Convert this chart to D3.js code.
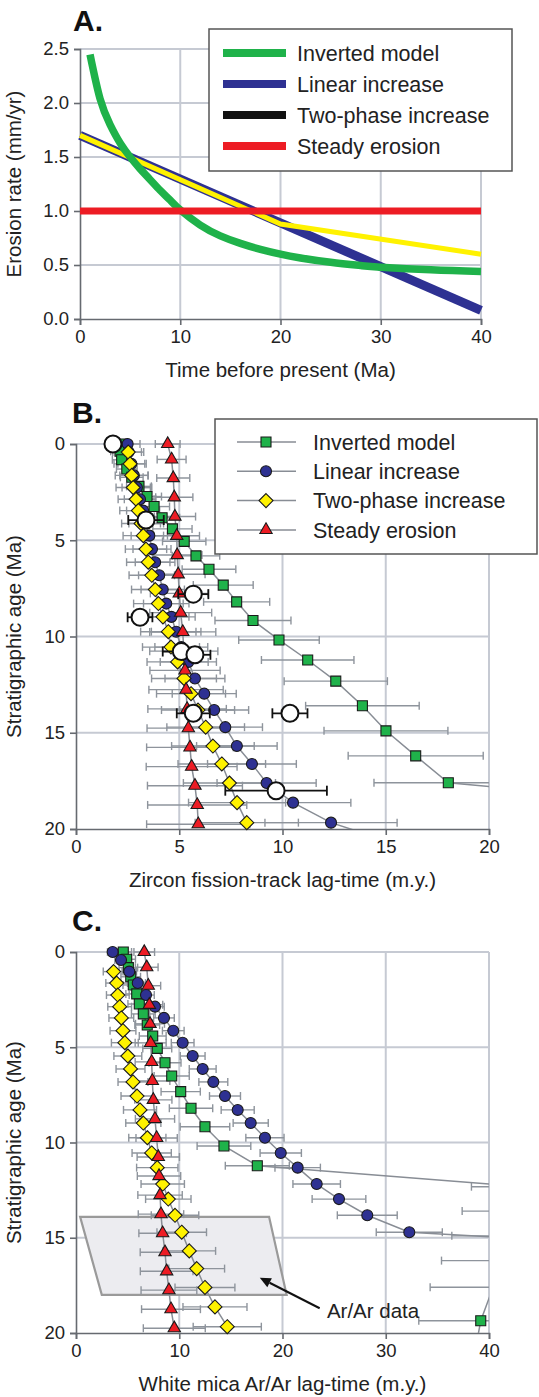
<!DOCTYPE html>
<html>
<head>
<meta charset="utf-8">
<script src="https://cdn.jsdelivr.net/npm/d3@7"></script>
<style>
  body { margin: 0; background: #fff; }
  svg { display: block; font-family: "Liberation Sans", Arial, Helvetica, sans-serif; }
</style>
</head>
<body>
<svg id="chart" width="539" height="1397"></svg>
<script>
// ---- Panel A: erosion-rate histories (Ma, mm/yr)
const A_INV_T = [1, 2, 3, 4, 5, 6, 7, 8, 9, 10, 12, 14, 16, 18, 20, 22, 25, 28, 30, 35, 40];
const A_INV_E = [2.45, 2.04, 1.8, 1.63, 1.5, 1.39, 1.29, 1.19, 1.1, 1.01, 0.87, 0.77, 0.7, 0.645, 0.6, 0.565, 0.525, 0.495, 0.48, 0.455, 0.44];
const A_LIN_T = [0, 40];
const A_LIN_E = [1.7, 0.08];
const A_TWO_T = [0, 20, 40];
const A_TWO_E = [1.7, 0.88, 0.6];
const A_STEADY_T = [0, 40];
const A_STEADY_E = [1, 1];

// ---- Stratigraphic ages of the modelled samples (Ma)
const AGE_INV = [0, 0.38, 0.82, 1.3, 1.73, 2.2, 2.73, 3.25, 3.83, 4.41, 5.06, 5.81, 6.51, 7.33, 8.2, 9.17, 10.18, 11.22, 12.32, 13.6, 14.9, 16.2, 17.6, 19.36, 21.4];
const AGE_LIN = [0, 0.42, 1.03, 1.63, 2.26, 2.87, 3.46, 4.13, 4.76, 5.46, 6.14, 6.82, 7.56, 8.29, 8.98, 9.75, 10.55, 11.32, 12.18, 12.97, 13.82, 14.71, 15.69, 16.62, 17.61, 18.63, 19.67, 20.7];
const AGE_TWO_ZFT = [0.42, 1.03, 1.63, 2.26, 2.87, 3.46, 4.13, 4.76, 5.46, 6.14, 6.82, 7.56, 8.29, 8.98, 9.75, 10.55, 11.32, 12.18, 12.97, 13.82, 14.71, 15.69, 16.62, 17.61, 18.63, 19.67];
const AGE_TWO_AR = [1.03, 1.63, 2.26, 2.87, 3.46, 4.13, 4.76, 5.46, 6.14, 6.82, 7.56, 8.29, 8.98, 9.75, 10.55, 11.32, 12.18, 12.97, 13.82, 14.71, 15.69, 16.62, 17.61, 18.63, 19.67];
const AGE_STEADY = [0, 0.8, 1.77, 2.77, 3.77, 4.77, 5.77, 6.77, 7.76, 8.76, 9.76, 10.76, 11.76, 12.76, 13.76, 14.76, 15.76, 16.76, 17.75, 18.75, 19.75];

// ---- Panel B: zircon fission-track lag-time (m.y.)
const ZFT_INV = [2.25, 2.13, 2.21, 2.46, 2.7, 3.05, 3.44, 3.78, 4.17, 4.67, 5.24, 5.81, 6.44, 7.13, 7.78, 8.57, 9.83, 11.22, 12.58, 13.87, 15.01, 16.45, 18.03, 35.5];
const ZFT_INV_ERR = [0.45, 0.45, 0.45, 0.5, 0.55, 0.6, 0.7, 0.75, 0.85, 0.95, 1.05, 1.15, 1.3, 1.45, 1.6, 1.84, 1.95, 2.24, 2.5, 2.75, 3.0, 3.27, 3.6, 7.0];
const ZFT_LIN = [2.5, 2.55, 2.68, 2.8, 2.95, 3.1, 3.25, 3.4, 3.55, 3.68, 3.83, 4.03, 4.2, 4.37, 4.62, 4.85, 5.1, 5.44, 5.76, 6.21, 6.69, 7.23, 7.79, 8.52, 9.23, 10.51, 12.35, 15.3];
const ZFT_LIN_ERR = [0.6, 0.62, 0.65, 0.68, 0.72, 0.76, 0.8, 0.84, 0.88, 0.92, 0.96, 1.0, 1.05, 1.1, 1.15, 1.2, 1.28, 1.36, 1.45, 1.55, 1.67, 1.8, 1.95, 2.15, 2.4, 2.8, 3.2, 3.8];
const ZFT_TWO = [2.53, 2.62, 2.7, 2.77, 2.91, 3.02, 3.15, 3.26, 3.39, 3.5, 3.67, 3.84, 3.99, 4.21, 4.47, 4.6, 4.92, 5.23, 5.57, 5.91, 6.28, 6.63, 7.06, 7.43, 7.8, 8.27];
const ZFT_TWO_ERR = [0.75, 0.78, 0.8, 0.83, 0.87, 0.9, 0.94, 0.98, 1.0, 1.05, 1.1, 1.15, 1.2, 1.26, 1.34, 1.38, 1.48, 1.57, 1.67, 1.77, 1.88, 2.0, 2.12, 2.23, 2.35, 2.5];
const ZFT_STEADY = [4.44, 4.63, 4.71, 4.76, 4.79, 4.88, 4.9, 4.95, 5.0, 5.07, 5.17, 5.22, 5.28, 5.33, 5.38, 5.44, 5.52, 5.6, 5.76, 5.87, 5.92];
const ZFT_STEADY_ERR = [0.6, 0.7, 0.8, 0.9, 1.0, 1.1, 1.2, 1.3, 1.4, 1.5, 1.6, 1.65, 1.7, 1.8, 1.9, 2.0, 2.1, 2.2, 2.3, 2.4, 2.5];
// observed detrital zircon lag-times
const OBS_AGE = [0, 3.95, 7.8, 9.0, 10.78, 10.95, 13.99, 13.99, 18.01];
const OBS_LAG = [1.79, 3.39, 5.68, 3.1, 5.1, 5.76, 5.68, 10.36, 9.69];
const OBS_ERR = [0, 0.86, 0.73, 0.6, 0.9, 0.75, 0.8, 0.85, 2.46];

// ---- Panel C: white mica Ar/Ar lag-time (m.y.)
const AR_INV = [4.58, 4.91, 5.07, 5.3, 5.55, 5.88, 6.13, 6.52, 6.9, 7.43, 7.87, 8.62, 9.27, 10.14, 11.14, 12.49, 14.33, 17.56, 43.3, 43.0, 42.3, 41.5, 40.4, 39.2, 38.5];
const AR_INV_ERR = [0.8, 0.85, 0.9, 0.95, 1.0, 1.05, 1.1, 1.15, 1.2, 1.3, 1.4, 1.55, 1.7, 1.9, 2.1, 2.4, 2.6, 3.1, 5.0, 5.6, 5.9, 6.1, 6.1, 6.0, 6.0];
const AR_LIN = [3.55, 4.36, 5.16, 5.98, 6.78, 7.65, 8.52, 9.42, 10.33, 11.3, 12.27, 13.3, 14.43, 15.66, 16.92, 18.3, 19.83, 21.47, 23.31, 25.47, 28.21, 32.28, 63.8];
const AR_LIN_ERR = [0.5, 0.6, 0.7, 0.75, 0.8, 0.9, 1.0, 1.05, 1.1, 1.2, 1.3, 1.4, 1.5, 1.6, 1.7, 1.85, 2.0, 2.2, 2.3, 2.6, 2.9, 3.2, 6.0];
const AR_TWO = [3.64, 3.94, 4.05, 4.23, 4.39, 4.55, 4.73, 5.02, 5.28, 5.52, 5.91, 6.2, 6.52, 6.91, 7.33, 7.87, 8.4, 8.94, 9.59, 10.24, 10.97, 11.69, 12.49, 13.46, 14.65];
const AR_TWO_ERR = [1.0, 1.05, 1.1, 1.15, 1.2, 1.25, 1.3, 1.35, 1.4, 1.45, 1.55, 1.6, 1.7, 1.8, 1.9, 2.0, 2.1, 2.2, 2.3, 2.4, 2.55, 2.7, 2.9, 3.1, 3.3];
const AR_STEADY = [6.61, 6.85, 7.0, 7.1, 7.17, 7.23, 7.33, 7.39, 7.49, 7.65, 7.81, 7.97, 8.04, 8.14, 8.23, 8.39, 8.62, 8.78, 9.0, 9.2, 9.52];
const AR_STEADY_ERR = [1.0, 1.1, 1.2, 1.3, 1.4, 1.5, 1.6, 1.7, 1.8, 1.9, 2.0, 2.05, 2.1, 2.15, 2.2, 2.3, 2.4, 2.55, 2.7, 2.85, 3.0];
// Ar/Ar data field (lag, age corners)
const AR_BOX_LAG = [0.4, 18.7, 20.4, 2.5];
const AR_BOX_AGE = [13.9, 13.9, 18, 18];

const LEGEND_NAMES = ["Inverted model", "Linear increase", "Two-phase increase", "Steady erosion"];

// Farben
const GREEN = "#1fb24a", BLUE = "#2e3192", YELLOW = "#fff200", RED = "#ed1c24";
const GRID = "#c6cad3", AXIS = "#666a70", ERRC = "#8e949c", LINEC = "#888d95", TXT = "#222";

const svg = d3.select("#chart");

// Diamant-Symbol (auf der Spitze stehendes Quadrat)
const diamond = {
    draw(ctx, size) {
        const r = Math.sqrt(size / 2);
        ctx.moveTo(0, -r); ctx.lineTo(r, 0); ctx.lineTo(0, r); ctx.lineTo(-r, 0); ctx.closePath();
    }
};

// Rahmen, Gitter und Achsen eines Teilbildes
function frame(box, xDomain, yDomain, xTicks, yTicks, yFmt, xTitle, yTitle, letter) {
    const x = d3.scaleLinear().domain(xDomain).range([box.left, box.right]);
    const y = d3.scaleLinear().domain(yDomain).range([box.top, box.bottom]);
    const g = svg.append("g");

    g.append("g").selectAll("line").data(xTicks.slice(1)).join("line")
        .attr("x1", d => x(d)).attr("x2", d => x(d))
        .attr("y1", box.top).attr("y2", box.bottom)
        .attr("stroke", GRID).attr("stroke-width", 2);
    g.append("g").selectAll("line").data(yTicks.filter(d => y(d) !== box.bottom)).join("line")
        .attr("x1", box.left).attr("x2", box.right)
        .attr("y1", d => y(d)).attr("y2", d => y(d))
        .attr("stroke", GRID).attr("stroke-width", 2);

    const xAxis = g.append("g").attr("transform", `translate(0,${box.bottom})`)
        .call(d3.axisBottom(x).tickValues(xTicks).tickSize(6).tickPadding(5).tickFormat(d3.format("d")));
    const yAxis = g.append("g").attr("transform", `translate(${box.left},0)`)
        .call(d3.axisLeft(y).tickValues(yTicks).tickSize(6).tickPadding(5).tickFormat(yFmt));
    [xAxis, yAxis].forEach(a => {
        a.select(".domain").attr("stroke", AXIS).attr("stroke-width", 1.6);
        a.selectAll(".tick line").attr("stroke", AXIS).attr("stroke-width", 1.6);
        a.selectAll("text").attr("fill", TXT).style("font-size", "18.5px")
            .style("font-family", "'Liberation Sans', Arial, sans-serif");
    });

    g.append("text").attr("x", (box.left + box.right) / 2).attr("y", box.bottom + 58)
        .attr("text-anchor", "middle").attr("fill", TXT).style("font-size", "20.5px").text(xTitle);
    g.append("text")
        .attr("transform", `translate(21,${(box.top + box.bottom) / 2}) rotate(-90)`)
        .attr("text-anchor", "middle").attr("fill", TXT).style("font-size", "20.5px").text(yTitle);
    g.append("text").attr("x", letter.x).attr("y", letter.y)
        .attr("fill", "#111").style("font-size", "30px").style("font-weight", "bold").text(letter.t);

    const clipId = "clip" + letter.t.replace(".", "");
    svg.append("clipPath").attr("id", clipId).append("rect")
        .attr("x", box.left).attr("y", box.top - 20)
        .attr("width", box.right - box.left).attr("height", box.bottom - box.top + 20);
    return { x, y, g, clipId };
}

// ---------------- Panel A ----------------
(function drawA() {
    const box = { left: 80, right: 481, top: 49, bottom: 319 };
    const { x, y, g } = frame(box, [0, 40], [2.5, 0], [0, 10, 20, 30, 40],
        [0, 0.5, 1, 1.5, 2, 2.5], d3.format(".1f"),
        "Time before present (Ma)", "Erosion rate (mm/yr)", { t: "A.", x: 73, y: 31 });

    const line = d3.line().x(d => x(d[0])).y(d => y(d[1]));
    const curve = d3.line().x(d => x(d[0])).y(d => y(d[1])).curve(d3.curveNatural);
    const zip = (t, e) => t.map((v, i) => [v, e[i]]);

    g.append("path").attr("d", line(zip(A_LIN_T, A_LIN_E)))
        .attr("fill", "none").attr("stroke", BLUE).attr("stroke-width", 9);
    g.append("path").attr("d", line(zip(A_TWO_T, A_TWO_E)))
        .attr("fill", "none").attr("stroke", YELLOW).attr("stroke-width", 5);
    g.append("path").attr("d", curve(zip(A_INV_T, A_INV_E)))
        .attr("fill", "none").attr("stroke", GREEN).attr("stroke-width", 7.5);
    g.append("path").attr("d", line(zip(A_STEADY_T, A_STEADY_E)))
        .attr("fill", "none").attr("stroke", RED).attr("stroke-width", 7);

    // Legende
    const lg = svg.append("g");
    lg.append("rect").attr("x", 209).attr("y", 29).attr("width", 303).attr("height", 142)
        .attr("fill", "#fff").attr("stroke", "#555").attr("stroke-width", 1.5);
    const cols = [GREEN, BLUE, "#111", RED];
    LEGEND_NAMES.forEach((name, i) => {
        const yy = 53 + i * 31;
        lg.append("line").attr("x1", 223).attr("x2", 286).attr("y1", yy).attr("y2", yy)
            .attr("stroke", cols[i]).attr("stroke-width", 8);
        lg.append("text").attr("x", 297).attr("y", yy).attr("dy", "0.36em")
            .attr("fill", TXT).style("font-size", "21.5px").text(name);
    });
})();

// Modellserien mit Fehlerbalken zeichnen
function drawSeries(p, seriesList, obs) {
    const { x, y, g, clipId } = p;
    const [x0, x1] = x.domain();
    const eg = g.append("g").attr("clip-path", `url(#${clipId})`);
    seriesList.forEach(s => {
        s.pts = s.ages.slice(0, s.values.length).map((a, i) => ({ age: a, lag: s.values[i], err: s.errors[i] }));
        s.pts.forEach(d => {
            const yy = y(d.age), xa = x(d.lag - d.err), xb = x(d.lag + d.err);
            eg.append("line").attr("x1", xa).attr("x2", xb).attr("y1", yy).attr("y2", yy)
                .attr("stroke", ERRC).attr("stroke-width", 1.4);
            [xa, xb].forEach(xx => eg.append("line").attr("x1", xx).attr("x2", xx)
                .attr("y1", yy - 4).attr("y2", yy + 4).attr("stroke", ERRC).attr("stroke-width", 1.4));
        });
    });
    const lg = g.append("g").attr("clip-path", `url(#${clipId})`);
    seriesList.forEach(s => {
        lg.append("path").datum(s.pts)
            .attr("d", d3.line().x(d => x(d.lag)).y(d => y(d.age)))
            .attr("fill", "none").attr("stroke", LINEC).attr("stroke-width", 1.5);
    });
    seriesList.forEach(s => {
        g.append("g").selectAll("path")
            .data(s.pts.filter(d => d.lag >= x0 && d.lag <= x1 && d.age <= y.domain()[1]))
            .join("path")
            .attr("transform", d => `translate(${x(d.lag)},${y(d.age)})`)
            .attr("d", d3.symbol().type(s.symbol).size(s.size))
            .attr("fill", s.color).attr("stroke", "#1a1a1a").attr("stroke-width", 1.1);
    });
    if (obs) {
        const og = g.append("g");
        obs.age.forEach((a, i) => {
            const yy = y(a), xa = x(obs.lag[i] - obs.err[i]), xb = x(obs.lag[i] + obs.err[i]);
            if (obs.err[i] > 0) {
                og.append("line").attr("x1", xa).attr("x2", xb).attr("y1", yy).attr("y2", yy)
                    .attr("stroke", "#111").attr("stroke-width", 1.8);
                [xa, xb].forEach(xx => og.append("line").attr("x1", xx).attr("x2", xx)
                    .attr("y1", yy - 5).attr("y2", yy + 5).attr("stroke", "#111").attr("stroke-width", 1.8));
            }
        });
        og.selectAll("circle").data(obs.age).join("circle")
            .attr("cx", (d, i) => x(obs.lag[i])).attr("cy", d => y(d)).attr("r", 8.5)
            .attr("fill", "#fff").attr("stroke", "#111").attr("stroke-width", 2);
    }
}

const SYM = [
    { symbol: d3.symbolSquare, size: 100, color: GREEN },
    { symbol: d3.symbolCircle, size: 95, color: BLUE },
    { symbol: diamond, size: 98, color: YELLOW },
    { symbol: d3.symbolTriangle, size: 66, color: RED }
];

// ---------------- Panel B ----------------
(function drawB() {
    const box = { left: 76, right: 489, top: 444, bottom: 829 };
    const p = frame(box, [0, 20], [0, 20], [0, 5, 10, 15, 20], [0, 5, 10, 15, 20], d3.format("d"),
        "Zircon fission-track lag-time (m.y.)", "Stratigraphic age (Ma)", { t: "B.", x: 72, y: 423 });
    drawSeries(p, [
        { ...SYM[0], ages: AGE_INV, values: ZFT_INV, errors: ZFT_INV_ERR },
        { ...SYM[1], ages: AGE_LIN, values: ZFT_LIN, errors: ZFT_LIN_ERR },
        { ...SYM[2], ages: AGE_TWO_ZFT, values: ZFT_TWO, errors: ZFT_TWO_ERR },
        { ...SYM[3], ages: AGE_STEADY, values: ZFT_STEADY, errors: ZFT_STEADY_ERR }
    ], { age: OBS_AGE, lag: OBS_LAG, err: OBS_ERR });

    // Legende mit Symbolen
    const lg = svg.append("g");
    lg.append("rect").attr("x", 215).attr("y", 419).attr("width", 322).attr("height", 135)
        .attr("fill", "#fff").attr("stroke", "#555").attr("stroke-width", 1.5);
    LEGEND_NAMES.forEach((name, i) => {
        const yy = 442 + i * 29.3;
        lg.append("line").attr("x1", 237).attr("x2", 296).attr("y1", yy).attr("y2", yy)
            .attr("stroke", LINEC).attr("stroke-width", 1.5);
        lg.append("path").attr("transform", `translate(266,${yy})`)
            .attr("d", d3.symbol().type(SYM[i].symbol).size(SYM[i].size))
            .attr("fill", SYM[i].color).attr("stroke", "#1a1a1a").attr("stroke-width", 1.1);
        lg.append("text").attr("x", 313).attr("y", yy).attr("dy", "0.36em")
            .attr("fill", TXT).style("font-size", "21.5px").text(name);
    });
})();

// ---------------- Panel C ----------------
(function drawC() {
    const box = { left: 76, right: 489, top: 952, bottom: 1333 };
    const p = frame(box, [0, 40], [0, 20], [0, 10, 20, 30, 40], [0, 5, 10, 15, 20], d3.format("d"),
        "White mica Ar/Ar lag-time (m.y.)", "Stratigraphic age (Ma)", { t: "C.", x: 72, y: 931 });
    const { x, y } = p;

    // Feld der Ar/Ar-Daten
    const poly = AR_BOX_LAG.map((l, i) => [x(l), y(AR_BOX_AGE[i])]);
    p.g.append("path").attr("d", "M" + poly.join("L") + "Z")
        .attr("fill", "#ececf0").attr("stroke", "#9a9a9a").attr("stroke-width", 2.2);

    drawSeries(p, [
        { ...SYM[0], ages: AGE_INV, values: AR_INV, errors: AR_INV_ERR },
        { ...SYM[1], ages: AGE_LIN, values: AR_LIN, errors: AR_LIN_ERR },
        { ...SYM[2], ages: AGE_TWO_AR, values: AR_TWO, errors: AR_TWO_ERR },
        { ...SYM[3], ages: AGE_STEADY, values: AR_STEADY, errors: AR_STEADY_ERR }
    ], null);

    // Pfeil und Beschriftung
    const tip = [x(17.8), y(17.1)], tail = [x(23.6), y(18.7)];
    const ang = Math.atan2(tip[1] - tail[1], tip[0] - tail[0]);
    const back = [tip[0] - 11 * Math.cos(ang), tip[1] - 11 * Math.sin(ang)];
    p.g.append("line").attr("x1", tail[0]).attr("y1", tail[1]).attr("x2", back[0]).attr("y2", back[1])
        .attr("stroke", "#111").attr("stroke-width", 2);
    const hw = 5;
    p.g.append("path").attr("d", `M${tip}L${back[0] + hw * Math.sin(ang)},${back[1] - hw * Math.cos(ang)}` +
        `L${back[0] - hw * Math.sin(ang)},${back[1] + hw * Math.cos(ang)}Z`).attr("fill", "#111");
    p.g.append("text").attr("x", x(24.3)).attr("y", y(19.2)).attr("fill", TXT)
        .style("font-size", "20.5px").text("Ar/Ar data");
})();
</script>
</body>
</html>
